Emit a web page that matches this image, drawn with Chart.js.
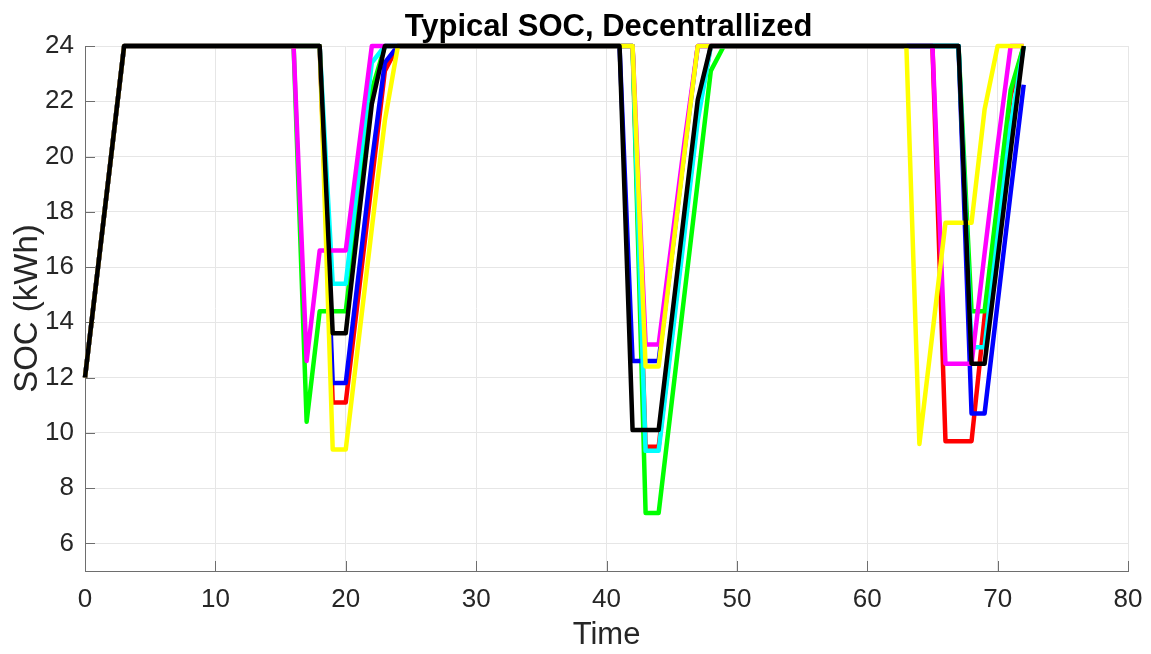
<!DOCTYPE html>
<html>
<head>
<meta charset="utf-8">
<title>Typical SOC, Decentrallized</title>
<script src="https://cdn.jsdelivr.net/npm/chart.js@4.4.1/dist/chart.umd.min.js"></script>
<style>
  html, body { margin: 0; padding: 0; background: #ffffff; }
  #chart { display: block; }
</style>
</head>
<body>
<canvas id="chart" width="1151" height="654"></canvas>
<script>
// hourly time steps (h)
const hours = [
  0, 1, 2, 3, 4, 5, 6, 7, 8, 9,
  10, 11, 12, 13, 14, 15, 16, 17, 18, 19,
  20, 21, 22, 23, 24, 25, 26, 27, 28, 29,
  30, 31, 32, 33, 34, 35, 36, 37, 38, 39,
  40, 41, 42, 43, 44, 45, 46, 47, 48, 49,
  50, 51, 52, 53, 54, 55, 56, 57, 58, 59,
  60, 61, 62, 63, 64, 65, 66, 67, 68, 69,
  70, 71, 72
];

// state of charge per vehicle (kWh), one value per hour
const socRed = [
  12, 16, 20, 24, 24, 24, 24, 24, 24, 24,
  24, 24, 24, 24, 24, 24, 24, 24, 24, 11.1,
  11.1, 15.1, 19.1, 23.1, 24, 24, 24, 24, 24, 24,
  24, 24, 24, 24, 24, 24, 24, 24, 24, 24,
  24, 24, 24, 9.5, 9.5, 13.5, 17.5, 21.5, 24, 24,
  24, 24, 24, 24, 24, 24, 24, 24, 24, 24,
  24, 24, 24, 24, 24, 24, 9.7, 9.7, 9.7, 14.2,
  18.2, 22.2, 24
];

const socGreen = [
  12, 16, 20, 24, 24, 24, 24, 24, 24, 24,
  24, 24, 24, 24, 24, 24, 24, 10.4, 14.4, 14.4,
  14.4, 18.4, 22.4, 24, 24, 24, 24, 24, 24, 24,
  24, 24, 24, 24, 24, 24, 24, 24, 24, 24,
  24, 24, 24, 7.1, 7.1, 11.1, 15.1, 19.1, 23.1, 24,
  24, 24, 24, 24, 24, 24, 24, 24, 24, 24,
  24, 24, 24, 24, 24, 24, 24, 24, 14.4, 14.4,
  18.4, 22.4, 24
];

const socBlue = [
  12, 16, 20, 24, 24, 24, 24, 24, 24, 24,
  24, 24, 24, 24, 24, 24, 24, 24, 24, 11.8,
  11.8, 15.8, 19.8, 23.4, 24, 24, 24, 24, 24, 24,
  24, 24, 24, 24, 24, 24, 24, 24, 24, 24,
  24, 24, 12.6, 12.6, 12.6, 16.4, 20.3, 24, 24, 24,
  24, 24, 24, 24, 24, 24, 24, 24, 24, 24,
  24, 24, 24, 24, 24, 24, 24, 24, 10.7, 10.7,
  14.7, 18.7, 22.6
];

const socCyan = [
  12, 16, 20, 24, 24, 24, 24, 24, 24, 24,
  24, 24, 24, 24, 24, 24, 24, 24, 24, 15.4,
  15.4, 19.4, 23.4, 24, 24, 24, 24, 24, 24, 24,
  24, 24, 24, 24, 24, 24, 24, 24, 24, 24,
  24, 24, 24, 9.35, 9.35, 13.3, 17.3, 21.3, 24, 24,
  24, 24, 24, 24, 24, 24, 24, 24, 24, 24,
  24, 24, 24, 24, 24, 24, 24, 24, 13.1, 13.1,
  17.1, 21.1, 24
];

const socMagenta = [
  12, 16, 20, 24, 24, 24, 24, 24, 24, 24,
  24, 24, 24, 24, 24, 24, 24, 12.6, 16.6, 16.6,
  16.6, 20.3, 24, 24, 24, 24, 24, 24, 24, 24,
  24, 24, 24, 24, 24, 24, 24, 24, 24, 24,
  24, 24, 24, 13.2, 13.2, 16.9, 20.6, 24, 24, 24,
  24, 24, 24, 24, 24, 24, 24, 24, 24, 24,
  24, 24, 24, 24, 24, 24, 12.5, 12.5, 12.5, 16.5,
  20.4, 24, 24
];

const socYellow = [
  12, 16, 20, 24, 24, 24, 24, 24, 24, 24,
  24, 24, 24, 24, 24, 24, 24, 24, 24, 9.4,
  9.4, 13.4, 17.4, 21.3, 24, 24, 24, 24, 24, 24,
  24, 24, 24, 24, 24, 24, 24, 24, 24, 24,
  24, 24, 24, 12.4, 12.4, 16.3, 20.2, 24, 24, 24,
  24, 24, 24, 24, 24, 24, 24, 24, 24, 24,
  24, 24, 24, 24, 9.6, 13.6, 17.6, 17.6, 17.6, 21.7,
  24, 24, 24
];

const socBlack = [
  12, 16, 20, 24, 24, 24, 24, 24, 24, 24,
  24, 24, 24, 24, 24, 24, 24, 24, 24, 13.6,
  13.6, 17.8, 21.9, 24, 24, 24, 24, 24, 24, 24,
  24, 24, 24, 24, 24, 24, 24, 24, 24, 24,
  24, 24, 10.1, 10.1, 10.1, 14.1, 18.1, 22.05, 24, 24,
  24, 24, 24, 24, 24, 24, 24, 24, 24, 24,
  24, 24, 24, 24, 24, 24, 24, 24, 12.5, 12.5,
  16.3, 20.2, 24
];

const xTicks = [0, 10, 20, 30, 40, 50, 60, 70, 80];
const yTicks = [6, 8, 10, 12, 14, 16, 18, 20, 22, 24];

const chartTitle = "Typical SOC, Decentrallized";

// plotted in this order, the last one ends up on top
const series = [
  { values: socRed, color: "#ff0000" },
  { values: socGreen, color: "#00ff00" },
  { values: socBlue, color: "#0000ff" },
  { values: socCyan, color: "#00ffff" },
  { values: socMagenta, color: "#ff00ff" },
  { values: socYellow, color: "#ffff00" },
  { values: socBlack, color: "#000000" },
];

const FONT = "'Liberation Sans', Arial, Helvetica, sans-serif";
const AXIS_COLOR = "#262626";

// short tick marks pointing into the plot area
const innerTicks = {
  id: "innerTicks",
  beforeDatasetsDraw(chart) {
    const { ctx, chartArea, scales } = chart;
    const len = 10;
    ctx.save();
    ctx.strokeStyle = "#6e6e6e";
    ctx.lineWidth = 1;
    ctx.beginPath();
    xTicks.forEach((v) => {
      const px = Math.round(scales.x.getPixelForValue(v)) + 0.5;
      ctx.moveTo(px, chartArea.bottom);
      ctx.lineTo(px, chartArea.bottom - len);
    });
    yTicks.forEach((v) => {
      const py = Math.round(scales.y.getPixelForValue(v)) + 0.5;
      ctx.moveTo(chartArea.left, py);
      ctx.lineTo(chartArea.left + len, py);
    });
    ctx.stroke();
    ctx.restore();
  },
};

// title centred over the plot area rather than the whole canvas
const plotTitle = {
  id: "plotTitle",
  afterDraw(chart) {
    const { ctx, chartArea } = chart;
    ctx.save();
    ctx.fillStyle = "#000000";
    ctx.font = "bold 31px " + FONT;
    ctx.textAlign = "center";
    ctx.textBaseline = "alphabetic";
    ctx.fillText(chartTitle, (chartArea.left + chartArea.right) / 2 + 2, 36);
    ctx.restore();
  },
};

const ctx = document.getElementById("chart");

new Chart(ctx, {
  type: "line",
  data: {
    datasets: series.map((s, i) => ({
      data: hours.map((h, j) => ({ x: h, y: s.values[j] })),
      borderColor: s.color,
      backgroundColor: s.color,
      borderWidth: 4.5,
      borderJoinStyle: "round",
      pointRadius: 0,
      pointHoverRadius: 0,
      tension: 0,
      fill: false,
      clip: false,
      order: series.length - i,
    })),
  },
  options: {
    responsive: false,
    animation: false,
    devicePixelRatio: 1,
    events: [],
    layout: {
      padding: { left: 0, right: 23, top: 46, bottom: 0 },
    },
    plugins: {
      legend: { display: false },
      tooltip: { enabled: false },
      title: { display: false },
    },
    scales: {
      x: {
        type: "linear",
        min: 0,
        max: 80,
        afterBuildTicks: (scale) => {
          scale.ticks = xTicks.map((v) => ({ value: v }));
        },
        afterFit: (scale) => {
          scale.height = 83;
          scale.paddingLeft = 0;
          scale.paddingRight = 0;
        },
        grid: { color: "#e6e6e6", lineWidth: 1, drawTicks: false },
        border: { display: true, color: "#6e6e6e", width: 1 },
        ticks: {
          color: AXIS_COLOR,
          font: { family: FONT, size: 26 },
          padding: 13,
          maxRotation: 0,
          autoSkip: false,
        },
        title: {
          display: true,
          text: "Time",
          color: AXIS_COLOR,
          font: { family: FONT, size: 31, lineHeight: 1.2 },
          padding: { top: 0, bottom: 0 },
        },
      },
      y: {
        type: "linear",
        min: 5,
        max: 24,
        afterBuildTicks: (scale) => {
          scale.ticks = yTicks.map((v) => ({ value: v }));
        },
        afterFit: (scale) => {
          scale.width = 85;
          scale.paddingTop = 0;
          scale.paddingBottom = 0;
        },
        grid: { color: "#e6e6e6", lineWidth: 1, drawTicks: false },
        border: { display: true, color: "#6e6e6e", width: 1 },
        ticks: {
          color: AXIS_COLOR,
          font: { family: FONT, size: 26 },
          padding: 11,
          autoSkip: false,
        },
        title: {
          display: true,
          text: "SOC (kWh)",
          color: AXIS_COLOR,
          font: { family: FONT, size: 33, lineHeight: 1.2 },
          padding: { top: 8, bottom: 0 },
        },
      },
    },
  },
  plugins: [innerTicks, plotTitle],
});
</script>
</body>
</html>
